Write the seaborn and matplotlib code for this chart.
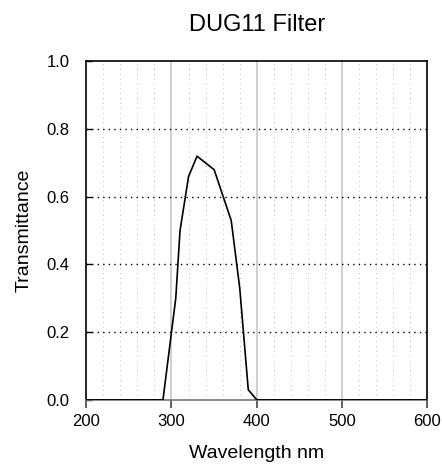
import matplotlib
matplotlib.use("Agg")
import matplotlib.pyplot as plt
import numpy as np
import pandas as pd
import seaborn as sns
from matplotlib.ticker import FixedLocator

# DUG11 transmittance curve
wavelength = [200, 290, 305, 310, 320, 330, 350, 370, 380, 390, 400, 600]
transmittance = [0.0, 0.0, 0.30, 0.50, 0.66, 0.72, 0.68, 0.53, 0.33, 0.03, 0.0, 0.0]

x_ticks = [200, 300, 400, 500, 600]
y_ticks = [0.0, 0.2, 0.4, 0.6, 0.8, 1.0]

sns.set_style("white")
plt.rcParams['font.family'] = ['Liberation Sans', 'DejaVu Sans']
plt.rcParams['text.color'] = 'black'
plt.rcParams['axes.labelcolor'] = 'black'
plt.rcParams['xtick.color'] = 'black'
plt.rcParams['ytick.color'] = 'black'

df = pd.DataFrame({"wl": wavelength, "t": transmittance})

fig = plt.figure(figsize=(4.42, 4.65), dpi=100)
ax = fig.add_axes([0.195, 0.14, 0.772, 0.728])

# grid: minor vertical dotted, major vertical solid light grey, horizontal dotted black
for v in np.arange(220, 600, 20):
    if v % 100 != 0:
        ax.axvline(v, color='#bbbbbb', linestyle=(0, (1, 4)), linewidth=0.7, zorder=1)
for v in x_ticks[1:-1]:
    ax.axvline(v, color='#cccccc', linewidth=1.3, zorder=1)
for h in y_ticks[1:-1]:
    ax.axhline(h, color='black', linestyle=(0, (1, 3)), linewidth=1.0, zorder=1)

sns.lineplot(data=df, x="wl", y="t", color='black', linewidth=1.2, ax=ax, zorder=3)

ax.set_xlim(200, 600)
ax.set_ylim(0, 1.0)
ax.xaxis.set_major_locator(FixedLocator(x_ticks))
ax.yaxis.set_major_locator(FixedLocator(y_ticks))
ax.set_yticklabels(['%.1f' % y for y in y_ticks])
ax.yaxis.set_minor_locator(FixedLocator([0.0, 1.0]))

ax.tick_params(axis='x', which='major', bottom=True, direction='out', length=6,
               width=1.2, color='#444444', labelsize=12, labelcolor='black', pad=4)
ax.tick_params(axis='y', which='major', left=True, direction='in', length=4,
               width=1.0, color='black', labelsize=12, labelcolor='black', pad=12)
ax.tick_params(axis='y', which='minor', left=True, direction='out', length=10,
               width=1.2, color='#333333')

for side in ['left', 'top', 'right']:
    ax.spines[side].set_color('black')
    ax.spines[side].set_linewidth(1.2)
ax.spines['bottom'].set_color('#777777')
ax.spines['bottom'].set_linewidth(1.2)

ax.set_xlabel('Wavelength nm', fontsize=14, labelpad=12)
ax.set_ylabel('Transmittance', fontsize=14, labelpad=10)
ax.set_title('DUG11 Filter', fontsize=17, pad=22)

fig.savefig('out.png', dpi=100)
